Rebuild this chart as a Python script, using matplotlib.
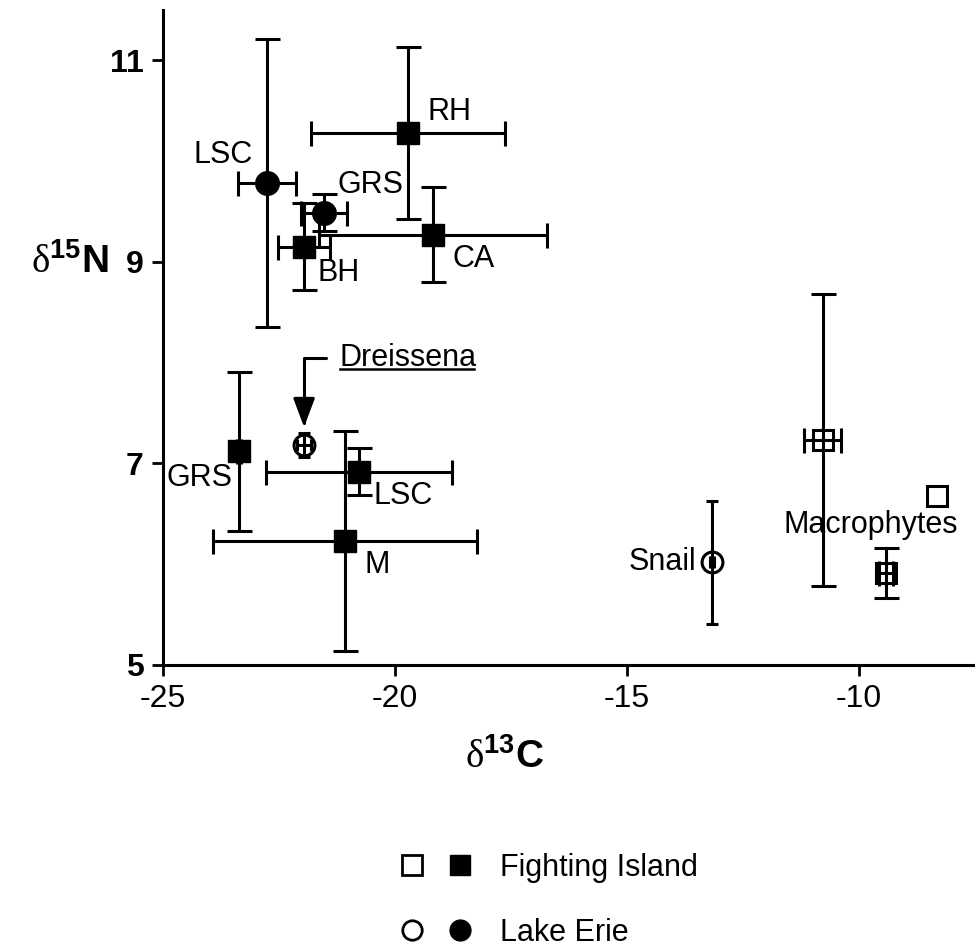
import matplotlib
matplotlib.use("Agg")
import numpy as np
import matplotlib.pyplot as plt
from matplotlib.lines import Line2D
from matplotlib.legend_handler import HandlerTuple
from matplotlib.text import Text

plt.rcParams['font.family'] = ['Liberation Sans', 'DejaVu Sans']
plt.rcParams['mathtext.fontset'] = 'custom'
plt.rcParams['mathtext.rm'] = 'Liberation Serif'
plt.rcParams['mathtext.bf'] = 'Liberation Sans:bold'

# Fighting Island (filled squares)
fi_names = ['RH', 'BH', 'CA', 'GRS', 'LSC', 'M']
fi_x = [-19.72, -21.96, -19.18, -23.36, -20.78, -21.08]
fi_y = [10.28, 9.15, 9.27, 7.12, 6.92, 6.23]
fi_xerr = [2.1, 0.56, 2.45, 0.05, 2.0, 2.85]
fi_yerr = [0.85, 0.43, 0.47, 0.79, 0.23, 1.09]

# Lake Erie (filled circles)
le_names = ['LSC', 'GRS']
le_x = [-22.76, -21.53]
le_y = [9.78, 9.49]
le_xerr = [0.63, 0.49]
le_yerr = [1.43, 0.18]

# macrophytes, Fighting Island (open squares)
mac_x = [-10.78, -9.42, -8.32]
mac_y = [7.23, 5.91, 6.68]
mac_xerr = [0.4, 0.15, 0.0]
mac_yerr = [1.45, 0.25, 0.0]

# snail and Dreissena (open circles)
oc_names = ['Snail', 'Dreissena']
oc_x = [-13.17, -21.96]
oc_y = [6.02, 7.18]
oc_xerr = [0.05, 0.15]
oc_yerr = [0.61, 0.12]

# point labels
lab_text = ['RH', 'LSC', 'GRS', 'BH', 'CA', 'GRS', 'LSC', 'M', 'Snail', 'Macrophytes']
lab_x = [-19.31, -23.06, -21.23, -21.68, -18.77, -23.51, -20.47, -20.65, -13.5, -9.74]
lab_y = [10.49, 10.06, 9.76, 8.89, 9.03, 6.86, 6.68, 5.99, 6.02, 6.39]
lab_ha = ['left', 'right', 'left', 'left', 'left', 'right', 'left', 'left', 'right', 'center']

xticks = [-25, -20, -15, -10]
yticks = [5, 7, 9, 11]

fig = plt.figure(figsize=(9.75, 9.52), dpi=100, facecolor='white')
ax = fig.add_axes([0.1672, 0.3015, 0.8328, 0.688])

eb = dict(ls='none', ecolor='black', elinewidth=2.2, capsize=9, capthick=2.2, color='black')
ax.errorbar(fi_x, fi_y, xerr=fi_xerr, yerr=fi_yerr, marker='s', ms=16, mfc='black', mec='black', **eb)
ax.errorbar(le_x, le_y, xerr=le_xerr, yerr=le_yerr, marker='o', ms=17, mfc='black', mec='black', **eb)

mx, my = np.array(mac_x), np.array(mac_y)
mxe, mye = np.array(mac_xerr), np.array(mac_yerr)
has_err = (mxe > 0) | (mye > 0)
ax.errorbar(mx[has_err], my[has_err], xerr=mxe[has_err], yerr=mye[has_err], marker='s', ms=14,
            mfc='none', mec='black', mew=2.2, **eb)
ax.plot(mx[~has_err], my[~has_err], marker='s', ms=14, mfc='none', mec='black', mew=2.2, ls='none')

ax.errorbar(oc_x, oc_y, xerr=oc_xerr, yerr=oc_yerr, marker='o', ms=15, mfc='none', mec='black', mew=2.2,
            ls='none', ecolor='black', elinewidth=2.2, capsize=4, capthick=1.8, color='black')

for t, x, y, ha in zip(lab_text, lab_x, lab_y, lab_ha):
    ax.text(x, y, t, ha=ha, va='center', fontsize=22)

# Dreissena label with bent arrow, underlined
dre = ax.annotate('Dreissena', xy=(oc_x[1], 7.36), xytext=(-21.19, 8.05), ha='left', va='center',
                  fontsize=22,
                  arrowprops=dict(arrowstyle='-|>,head_length=0.8,head_width=0.3', color='black', lw=2.2,
                                  connectionstyle='angle,angleA=180,angleB=90,rad=0',
                                  relpos=(0, 0.5), shrinkA=8, shrinkB=0))
fig.canvas.draw()
bb = Text.get_window_extent(dre).transformed(ax.transData.inverted())
ax.plot([bb.x0, bb.x1], [bb.y0 + 0.04, bb.y0 + 0.04], color='black', lw=1.8)

ax.set_xlim(-25, -7.5)
ax.set_ylim(5, 11.5)
ax.set_xticks(xticks)
ax.set_yticks(yticks)
ax.set_xticklabels([str(v) for v in xticks], fontsize=23)
ax.set_yticklabels([str(v) for v in yticks], fontsize=23, fontweight='bold')
ax.tick_params(direction='out', length=8, width=2, pad=6)
for s in ['top', 'right']:
    ax.spines[s].set_visible(False)
for s in ['left', 'bottom']:
    ax.spines[s].set_linewidth(2.2)

ax.set_xlabel(r'$\mathrm{\delta}^{\mathbf{13}}\mathbf{C}$', fontsize=28)
ax.xaxis.set_label_coords(0.421, -0.112)
ax.set_ylabel(r'$\mathrm{\delta}^{\mathbf{15}}\mathbf{N}$', fontsize=28, rotation=0, ha='center', va='center')
ax.yaxis.set_label_coords(-0.115, 0.615)

# legend
h_os = Line2D([], [], marker='s', ms=14, mfc='none', mec='black', mew=2, ls='none')
h_fs = Line2D([], [], marker='s', ms=15, mfc='black', mec='black', ls='none')
h_oc = Line2D([], [], marker='o', ms=14, mfc='none', mec='black', mew=2, ls='none')
h_fc = Line2D([], [], marker='o', ms=15, mfc='black', mec='black', ls='none')
fig.legend([(h_os, h_fs), (h_oc, h_fc)], ['Fighting Island', 'Lake Erie'],
           handler_map={tuple: HandlerTuple(ndivide=None, pad=0.9)},
           loc='upper left', bbox_to_anchor=(0.40, 0.117), frameon=False, fontsize=22,
           handlelength=2.2, handletextpad=1.0, labelspacing=1.15, borderaxespad=0)

fig.savefig('out.png', dpi=100, facecolor='white')
